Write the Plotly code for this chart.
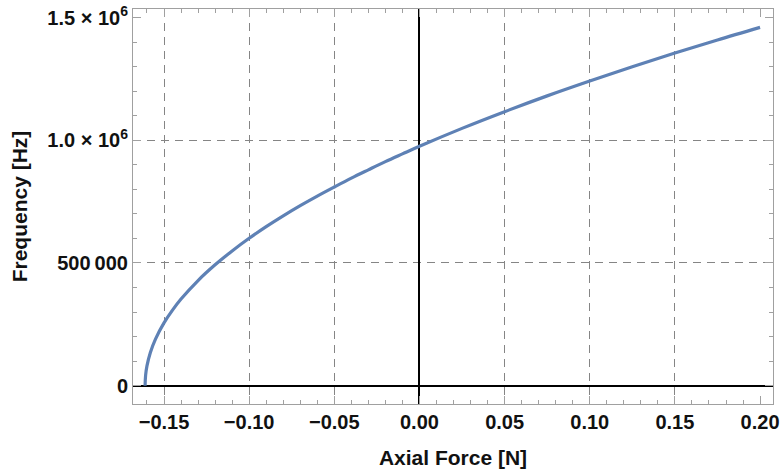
import plotly.graph_objects as go

# Axial force (N) and the corresponding resonance frequency (Hz)
force = [-0.1611, -0.1608, -0.160, -0.158, -0.155, -0.150, -0.145, -0.140, -0.130,
         -0.120, -0.110, -0.100, -0.090, -0.080, -0.070, -0.060, -0.050, -0.040,
         -0.030, -0.020, -0.010, 0.000, 0.025, 0.050, 0.075, 0.100, 0.125, 0.150,
         0.175, 0.200]
frequency = [0, 42000, 80500, 135500, 190000, 256000, 308000, 353000, 428500,
             492500, 549000, 600500, 648000, 692000, 733500, 772500, 809500, 845500,
             879500, 913000, 944500, 975500, 1048500, 1116500, 1181000, 1241500,
             1300000, 1355500, 1409000, 1460000]

x_ticks = [-0.15, -0.10, -0.05, 0.00, 0.05, 0.10, 0.15, 0.20]
x_tick_text = ["\u22120.15", "\u22120.10", "\u22120.05", "0.00", "0.05", "0.10", "0.15", "0.20"]
y_ticks = [0, 500000, 1000000, 1500000]
y_tick_text = ["0", "500\u2009000", "1.0 \u00d7 10<sup>6</sup>", "1.5 \u00d7 10<sup>6</sup>"]
x_grid = [-0.15, -0.10, -0.05, 0.05, 0.10, 0.15]
y_grid = [500000, 1000000]

x_range = [-0.1682, 0.2076]
y_range = [-74700, 1535000]

font_family = "Liberation Sans, Arial, sans-serif"
tick_font = dict(family=font_family, size=20, color="#111111", weight="bold")
title_font = dict(family=font_family, size=21, color="#111111", weight="bold")
frame_color = "#a0a0a0"
grid_color = "#858585"

fig = go.Figure()

# invisible trace that carries the dashed grid axes
fig.add_trace(go.Scatter(x=[x_range[0]], y=[y_range[0]], xaxis="x2", yaxis="y2",
                         mode="markers", marker=dict(opacity=0), hoverinfo="skip",
                         showlegend=False))

fig.add_trace(go.Scatter(x=force, y=frequency, mode="lines",
                         line=dict(color="#5E81B5", width=3.2, shape="spline", smoothing=1.0),
                         showlegend=False))

fig.update_layout(
    width=782, height=471,
    margin=dict(l=133, r=9, t=9, b=67),
    paper_bgcolor="white", plot_bgcolor="white",
    xaxis=dict(
        range=x_range, tickvals=x_ticks, ticktext=x_tick_text, automargin=False,
        ticks="inside", ticklen=8, tickwidth=1, tickcolor=frame_color,
        minor=dict(dtick=0.01, tick0=0, ticks="inside", ticklen=4, tickcolor=frame_color, showgrid=False),
        showline=True, linecolor=frame_color, linewidth=1, mirror="ticks",
        showgrid=False, zeroline=True, zerolinecolor="black", zerolinewidth=2,
        tickfont=tick_font,
        title=dict(text="Axial Force [N]", font=title_font, standoff=18),
    ),
    yaxis=dict(
        range=y_range, tickvals=y_ticks, ticktext=y_tick_text, automargin=False,
        ticks="inside", ticklen=8, tickwidth=1, tickcolor=frame_color,
        minor=dict(dtick=100000, tick0=0, ticks="inside", ticklen=4, tickcolor=frame_color, showgrid=False),
        showline=True, linecolor=frame_color, linewidth=1, mirror="ticks",
        showgrid=False, zeroline=True, zerolinecolor="black", zerolinewidth=2,
        tickfont=tick_font,
        title=dict(text="Frequency [Hz]", font=title_font, standoff=14),
    ),
    xaxis2=dict(
        overlaying="x", range=x_range, tickvals=x_grid, showticklabels=False,
        ticks="", showgrid=True, gridcolor=grid_color, gridwidth=1.3, griddash="8px,6px",
        zeroline=False, showline=False,
    ),
    yaxis2=dict(
        overlaying="y", range=y_range, tickvals=y_grid, showticklabels=False,
        ticks="", showgrid=True, gridcolor=grid_color, gridwidth=1.3, griddash="8px,6px",
        zeroline=False, showline=False,
    ),
)

fig.write_html("out.html")
